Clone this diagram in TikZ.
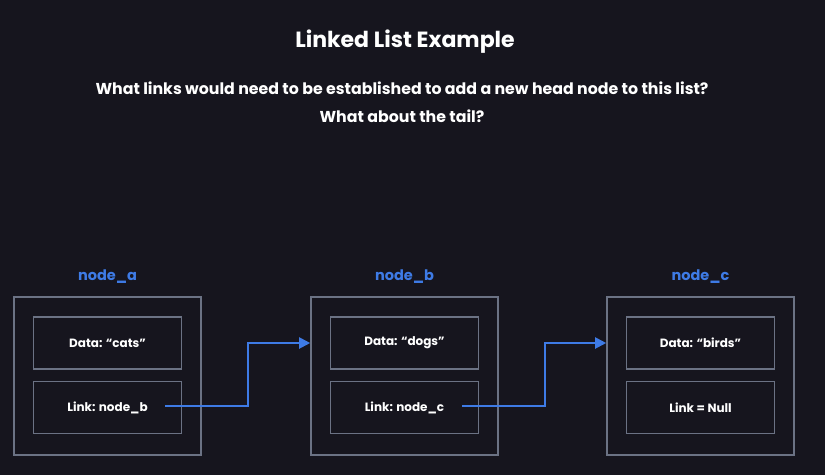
\documentclass[tikz,border=0pt]{standalone}
\usepackage{fontspec}
\setmainfont{Poppins}
\usetikzlibrary{arrows.meta,calc}
\definecolor{bg}{HTML}{16151E}
\definecolor{boxc}{HTML}{6B7284}
\definecolor{bluec}{HTML}{3E7BE6}
\begin{document}
\begin{tikzpicture}[x=1pt,y=-1pt,
  outerbox/.style={draw=boxc,line width=1.6pt,minimum width=187pt,minimum height=158pt,inner sep=0pt},
  innerbox/.style={draw=boxc,line width=1.6pt,minimum width=148pt,minimum height=52pt,inner sep=0pt,text=white,font=\fontsize{12}{14}\selectfont\bfseries},
  nodelabel/.style={text=bluec,font=\fontsize{14.5}{17}\selectfont\bfseries},
  linkarrow/.style={draw=bluec,line width=2pt,-{Triangle[length=11pt,width=11pt]}},
  titletext/.style={text=white,font=\fontsize{22}{24}\selectfont\bfseries},
  subtext/.style={text=white,font=\fontsize{15.8}{18}\selectfont\bfseries}]
\fill[bg] (0,0) rectangle (825,475);
\useasboundingbox (0,0) rectangle (825,475);
\node[titletext] (title) at (405,42) {Linked List Example};
\node[subtext] (q1) at (402,88) {What links would need to be established to add a new head node to this list?};
\node[subtext] (q2) at (402,116) {What about the tail?};
% node_a
\node[outerbox] (oa) at (107.5,376) {};
\node[innerbox] (da) at (107.5,343) {Data: “cats”};
\node[innerbox] (la) at (107.5,407.5) {Link: node\_b};
\node[nodelabel] (ta) at (107.5,277) {node\_a};
% node_b
\node[outerbox] (ob) at (404.5,376) {};
\node[innerbox] (db) at (404.5,343) {Data: “dogs”};
\node[innerbox] (lb) at (404.5,407.5) {Link: node\_c};
\node[nodelabel] (tb) at (404.5,277) {node\_b};
% node_c
\node[outerbox] (oc) at (700.5,376) {};
\node[innerbox] (dc) at (700.5,343) {Data: “birds”};
\node[innerbox] (lc) at (700.5,407.5) {Link = Null};
\node[nodelabel] (tc) at (700.5,277) {node\_c};
% links
\coordinate (sa) at (165,406);
\coordinate (sb) at (462,406);
\draw[linkarrow] (sa) -- (248,406) |- (db.center -| ob.west);
\draw[linkarrow] (sb) -- (545,406) |- (dc.center -| oc.west);
\end{tikzpicture}
\end{document}
